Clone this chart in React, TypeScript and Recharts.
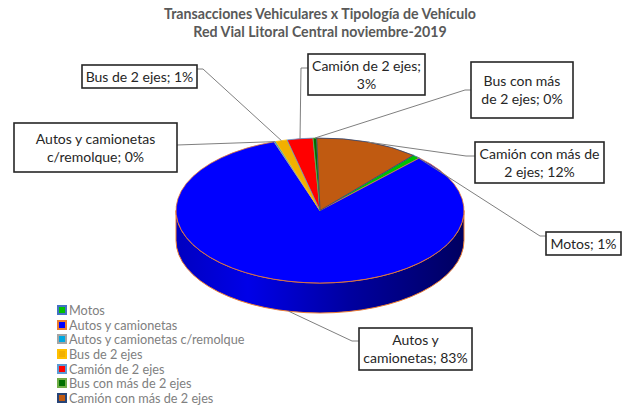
/**
 * Transacciones vehiculares por tipología: torta "3D" con Recharts
 */

import { PieChart, Pie, Cell, Legend } from 'recharts';

const CATEGORIES = [
  'Motos',
  'Autos y camionetas',
  'Autos y camionetas c/remolque',
  'Bus de 2 ejes',
  'Camión de 2 ejes',
  'Bus con más de 2 ejes',
  'Camión con más de 2 ejes',
];
const SHARES = [0.9, 82.8, 0.2, 1.3, 2.9, 0.4, 11.6];
const TITLE_LINES = [
  'Transacciones Vehiculares x Tipología de Vehículo',
  'Red Vial Litoral Central noviembre-2019',
];
const FILLS = ['#00c000', '#0000ff', '#00a8e0', '#f2b000', '#ff0000', '#007000', '#c05a11'];
const BORDERS = ['#4472c4', '#ed7d31', '#a5a5a5', '#ffc000', '#5b9bd5', '#70ad47', '#264478'];

// Texto de cada etiqueta, partido en líneas
const LABEL_LINES = [
  ['Motos; 1%'],
  ['Autos y', 'camionetas; 83%'],
  ['Autos y camionetas', 'c/remolque; 0%'],
  ['Bus de 2 ejes; 1%'],
  ['Camión de 2 ejes;', '3%'],
  ['Bus con más', 'de 2 ejes; 0%'],
  ['Camión con más de', '2 ejes; 12%'],
];

// Cajas de etiqueta [x, y, w, h] y codo de la línea guía [x, y]
const LABEL_BOXES = [
  [546, 232, 75, 23],
  [359, 328, 113, 42],
  [14, 123, 163, 49],
  [82, 65, 115, 23],
  [308, 54, 117, 41],
  [471, 62, 102, 56],
  [475, 142, 129, 41],
];
const LABEL_ELBOWS = [
  [540, 236],
  [352, 341],
  [177, 145],
  [203, 69],
  [301, 68],
  [465, 90],
  [466, 156],
];

const WIDTH = 626;
const HEIGHT = 409;
const CX = 320;
const CY = 210.5;
const RX = 144;
const RY = 72.5;
const DEPTH = 30;
const RAD = Math.PI / 180;

const chartData = CATEGORIES.map((name, i) => ({ name, value: SHARES[i] }));

const px = (a: number) => CX + RX * Math.cos(a * RAD);
const py = (a: number) => CY - RY * Math.sin(a * RAD);

// Sector elíptico: recharts entrega los ángulos, aquí se aplasta el círculo
function EllipseSector(props: any) {
  const { startAngle, endAngle, index } = props;
  const hi = Math.max(startAngle, endAngle);
  const lo = Math.min(startAngle, endAngle);
  const large = hi - lo > 180 ? 1 : 0;
  const top = `M${CX},${CY} L${px(hi)},${py(hi)} A${RX},${RY} 0 ${large} 1 ${px(lo)},${py(lo)} Z`;

  // Pared lateral: la mitad delantera cae entera en el sector mayor
  const l = `${px(180)},${py(180)}`;
  const r = `${px(360)},${py(360)}`;
  const lb = `${px(180)},${py(180) + DEPTH}`;
  const rb = `${px(360)},${py(360) + DEPTH}`;

  return (
    <g>
      {large === 1 && (
        <path
          d={`M${l} A${RX},${RY} 0 0 0 ${r} L${rb} A${RX},${RY} 0 0 1 ${lb} Z`}
          fill="url(#wallBlue)"
          stroke={BORDERS[index]}
          strokeWidth={1}
        />
      )}
      <path d={top} fill={FILLS[index]} stroke={BORDERS[index]} strokeWidth={0.8} />
    </g>
  );
}

// Caja con texto y línea guía hacia el centro angular del sector
function BoxLabel(props: any) {
  const { index, midAngle } = props;
  const [x, y, w, h] = LABEL_BOXES[index];
  const [ex, ey] = LABEL_ELBOWS[index];
  const lines = LABEL_LINES[index];
  const sx = px(midAngle);
  const sy = py(midAngle) + (Math.sin(midAngle * RAD) < 0 ? DEPTH : 0);
  const anchorX = ex < x ? x : ex > x + w ? x + w : ex;
  const lineH = 18;
  const firstY = y + h / 2 - ((lines.length - 1) * lineH) / 2 + 5;

  return (
    <g>
      <polyline
        points={`${sx},${sy} ${ex},${ey} ${anchorX},${ey}`}
        fill="none"
        stroke="#7f7f7f"
        strokeWidth={1}
      />
      <rect x={x} y={y} width={w} height={h} fill="#fff" stroke="#262626" strokeWidth={1.6} />
      {lines.map((t: string, i: number) => (
        <text
          key={t}
          x={x + w / 2}
          y={firstY + i * lineH}
          textAnchor="middle"
          fontSize={14}
          fill="#262626"
        >
          {t}
        </text>
      ))}
    </g>
  );
}

function LegendList() {
  return (
    <div>
      {CATEGORIES.map((name, i) => (
        <div key={name} style={{ display: 'flex', alignItems: 'center', height: 14.6 }}>
          <span
            style={{
              boxSizing: 'border-box',
              width: 10,
              height: 10,
              marginRight: 2,
              background: FILLS[i],
              border: `2px solid ${BORDERS[i]}`,
            }}
          />
          <span style={{ fontSize: 12.7, color: '#808080', whiteSpace: 'nowrap' }}>{name}</span>
        </div>
      ))}
    </div>
  );
}

export default function App() {
  return (
    <div style={{ position: 'absolute', left: 0, top: 0, fontFamily: 'Lato, sans-serif' }}>
      <PieChart width={WIDTH} height={HEIGHT} margin={{ top: 0, right: 0, bottom: 0, left: 0 }}>
        <defs>
          <linearGradient id="wallBlue" x1="0" y1="0" x2="1" y2="0">
            <stop offset="0" stopColor="#0000c0" />
            <stop offset="0.25" stopColor="#0000e8" />
            <stop offset="0.6" stopColor="#0000a0" />
            <stop offset="1" stopColor="#000060" />
          </linearGradient>
        </defs>
        {TITLE_LINES.map((t, i) => (
          <text
            key={t}
            x={320}
            y={18.5 + i * 18}
            textAnchor="middle"
            fontSize={14.2}
            fontWeight={700}
            fill="#595959"
          >
            {t}
          </text>
        ))}
        <Pie
          data={chartData}
          dataKey="value"
          nameKey="name"
          cx={CX}
          cy={CY}
          outerRadius={RX}
          startAngle={49.6}
          endAngle={-310.4}
          paddingAngle={0}
          isAnimationActive={false}
          shape={EllipseSector}
          label={BoxLabel}
          labelLine={false}
        >
          {chartData.map((d, i) => (
            <Cell key={d.name} fill={FILLS[i]} />
          ))}
        </Pie>
        <Legend
          layout="vertical"
          align="left"
          verticalAlign="top"
          wrapperStyle={{ left: 57, top: 303, width: 220 }}
          content={<LegendList />}
        />
      </PieChart>
    </div>
  );
}
